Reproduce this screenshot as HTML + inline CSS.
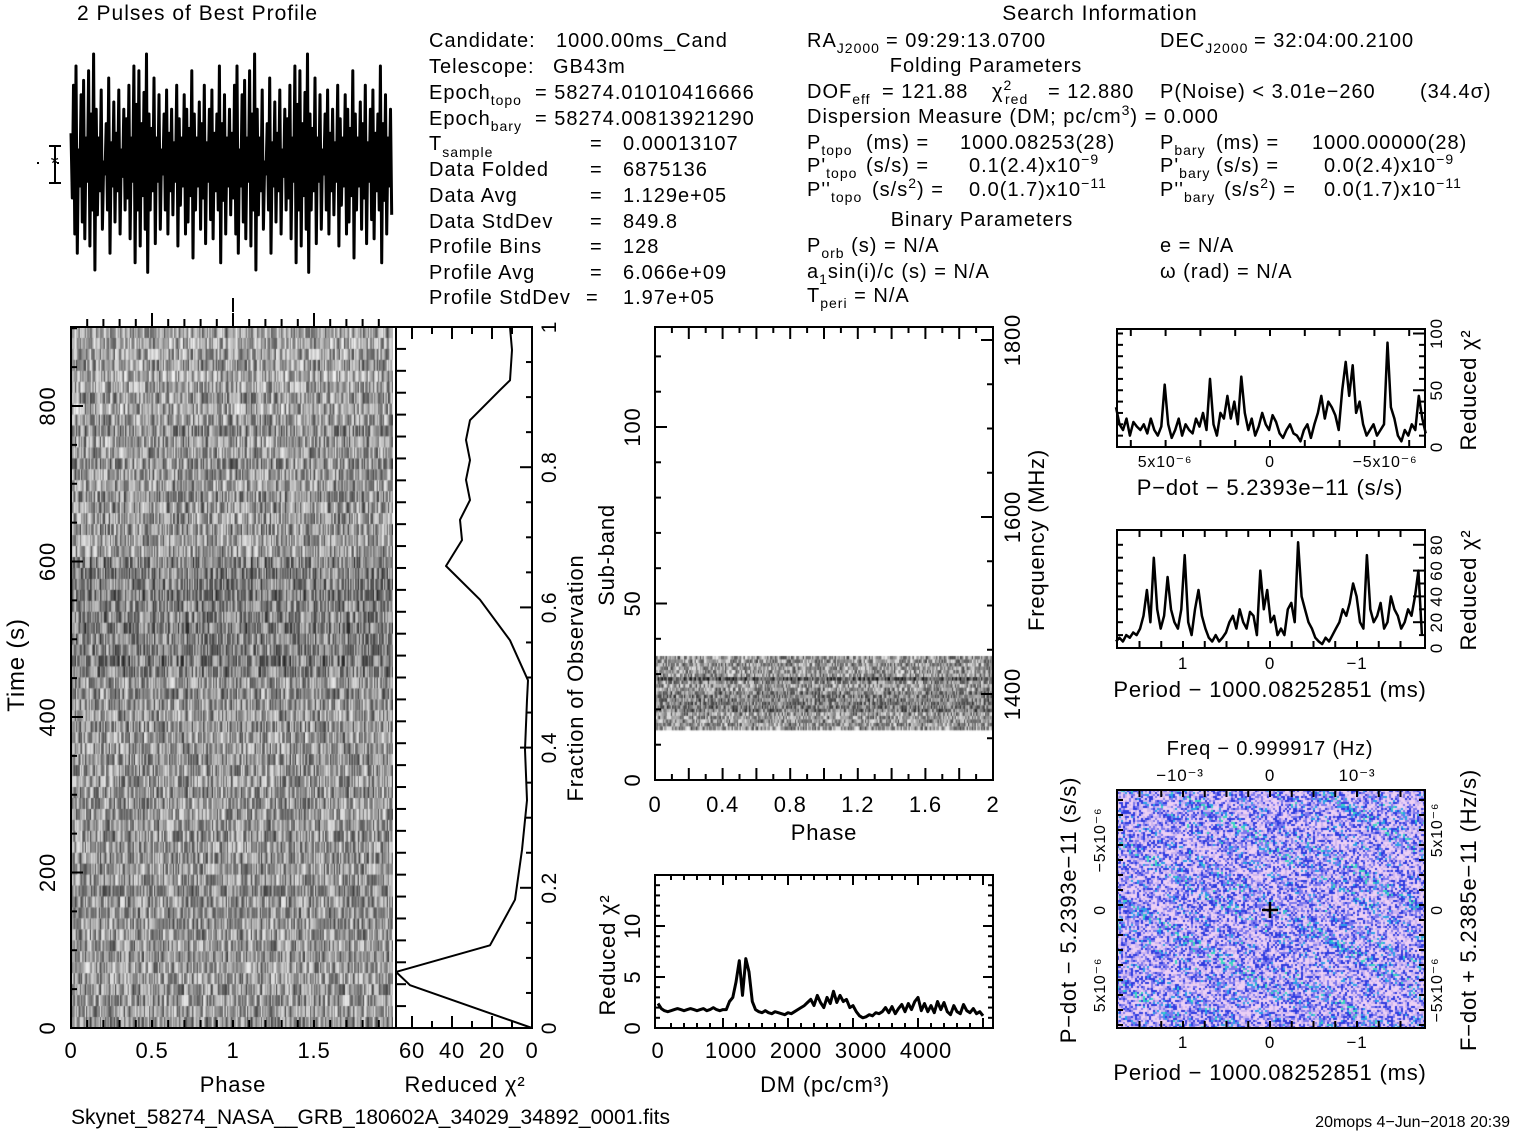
<!DOCTYPE html>
<html><head><meta charset="utf-8">
<style>
html,body{margin:0;padding:0;background:#fff;}
#root{position:relative;width:1517px;height:1133px;overflow:hidden;background:#fff;font-family:"Liberation Sans",sans-serif;}
canvas{position:absolute;}
svg{position:absolute;left:0;top:0;}
svg text{font-family:"Liberation Sans","DejaVu Sans",sans-serif;fill:#000;}
.info text{letter-spacing:1px;}
</style></head>
<body>
<div id="root">
<canvas id="tpCanvas" width="322" height="701" style="left:71px;top:327px"></canvas>
<canvas id="sbCanvas" width="338" height="453" style="left:655px;top:327px"></canvas>
<canvas id="ppCanvas" width="308" height="238" style="left:1117px;top:790px"></canvas>
<svg id="sv" width="1517" height="1133" xmlns="http://www.w3.org/2000/svg">
<g font-size="21" class="info">
<text x="77" y="20">2 Pulses of Best Profile</text>
<text x="1100" y="20" text-anchor="middle">Search Information</text>
</g>
<g font-size="20" class="info">
<text x="429" y="47">Candidate:<tspan x="556">1000.00ms_Cand</tspan></text>
<text x="429" y="73">Telescope:<tspan x="553">GB43m</tspan></text>
<text x="429" y="99">Epoch<tspan dy="6" font-size="14">topo</tspan><tspan dy="-6" x="535">= 58274.01010416666</tspan></text>
<text x="429" y="125">Epoch<tspan dy="6" font-size="14">bary</tspan><tspan dy="-6" x="535">= 58274.00813921290</tspan></text>
<text x="429" y="150">T<tspan dy="7" font-size="14">sample</tspan><tspan dy="-7" x="590">=</tspan><tspan x="623">0.00013107</tspan></text>
<text x="429" y="176">Data Folded<tspan x="590">=</tspan><tspan x="623">6875136</tspan></text>
<text x="429" y="202">Data Avg<tspan x="590">=</tspan><tspan x="623">1.129e+05</tspan></text>
<text x="429" y="228">Data StdDev<tspan x="590">=</tspan><tspan x="623">849.8</tspan></text>
<text x="429" y="253">Profile Bins<tspan x="590">=</tspan><tspan x="623">128</tspan></text>
<text x="429" y="279">Profile Avg<tspan x="590">=</tspan><tspan x="623">6.066e+09</tspan></text>
<text x="429" y="304">Profile StdDev<tspan x="586">=</tspan><tspan x="623">1.97e+05</tspan></text>
</g>
<g font-size="20" class="info">
<text x="807" y="47">RA<tspan dy="6" font-size="14">J2000</tspan><tspan dy="-6" x="886">= 09:29:13.0700</tspan></text>
<text x="1160" y="47">DEC<tspan dy="6" font-size="14">J2000</tspan><tspan dy="-6" x="1254">= 32:04:00.2100</tspan></text>
<text x="986" y="72" text-anchor="middle">Folding Parameters</text>
<text x="807" y="98">DOF<tspan dy="6" font-size="14">eff</tspan><tspan dy="-6" x="882">= 121.88</tspan><tspan x="992">χ</tspan><tspan dy="-8" font-size="14">2</tspan><tspan dy="14" x="1005" font-size="14">red</tspan><tspan dy="-6" x="1048">= 12.880</tspan><tspan x="1160">P(Noise) &lt; 3.01e−260</tspan><tspan x="1420">(34.4σ)</tspan></text>
<text x="807" y="123">Dispersion Measure (DM; pc/cm<tspan dy="-8" font-size="14">3</tspan><tspan dy="8">) = 0.000</tspan></text>
<text x="807" y="149">P<tspan dy="6" font-size="14">topo</tspan><tspan dy="-6" x="866">(ms) =</tspan><tspan x="960">1000.08253(28)</tspan></text>
<text x="1160" y="149">P<tspan dy="6" font-size="14">bary</tspan><tspan dy="-6" x="1216">(ms) =</tspan><tspan x="1312">1000.00000(28)</tspan></text>
<text x="807" y="172">P'<tspan dy="6" font-size="14">topo</tspan><tspan dy="-6" x="866">(s/s) =</tspan><tspan x="969">0.1(2.4)x10</tspan><tspan dy="-8" font-size="14">−9</tspan></text>
<text x="1160" y="172">P'<tspan dy="6" font-size="14">bary</tspan><tspan dy="-6" x="1216">(s/s) =</tspan><tspan x="1324">0.0(2.4)x10</tspan><tspan dy="-8" font-size="14">−9</tspan></text>
<text x="807" y="196">P''<tspan dy="6" font-size="14">topo</tspan><tspan dy="-6" x="872">(s/s</tspan><tspan dy="-8" font-size="14">2</tspan><tspan dy="8">) =</tspan><tspan x="969">0.0(1.7)x10</tspan><tspan dy="-8" font-size="14">−11</tspan></text>
<text x="1160" y="196">P''<tspan dy="6" font-size="14">bary</tspan><tspan dy="-6" x="1224">(s/s</tspan><tspan dy="-8" font-size="14">2</tspan><tspan dy="8">) =</tspan><tspan x="1324">0.0(1.7)x10</tspan><tspan dy="-8" font-size="14">−11</tspan></text>
<text x="982" y="226" text-anchor="middle">Binary Parameters</text>
<text x="807" y="252">P<tspan dy="6" font-size="14">orb</tspan><tspan dy="-6"> (s) = N/A</tspan></text>
<text x="1160" y="252">e = N/A</text>
<text x="807" y="278">a<tspan dy="6" font-size="14">1</tspan><tspan dy="-6">sin(i)/c (s) = N/A</tspan></text>
<text x="1160" y="278">ω (rad) = N/A</text>
<text x="807" y="302">T<tspan dy="6" font-size="14">peri</tspan><tspan dy="-6"> = N/A</tspan></text>
</g>
<text x="71" y="1124" font-size="21" class="info">Skynet_58274_NASA__GRB_180602A_34029_34892_0001.fits</text>
<text x="1510" y="1127" font-size="16" text-anchor="end">20mops   4−Jun−2018 20:39</text>
<g id="dyn"></g>
</svg>
</div>
<script>
// ---------- data ----------
const profileHigh = [0.62,0.82,0.9,0.55,0.78,0.84,0.6,0.88,0.7,0.95,0.72,0.6,0.8,0.5,0.66,0.85,0.58,0.75,0.62,0.8,0.55,0.72,0.68,0.82,0.6,0.9,0.74,0.88,0.66,0.79,0.95,0.7,0.64,0.85,0.6,0.78,0.55,0.7,0.8,0.62,0.72,0.58,0.82,0.68,0.6,0.78,0.72,0.64,0.88,0.7,0.6,0.75,0.66,0.82,0.58,0.72,0.8,0.62,0.7,0.9,0.66,0.78,0.6,0.72];
const profileLow  = [0.35,0.2,0.12,0.4,0.25,0.18,0.42,0.15,0.3,0.05,0.28,0.38,0.22,0.45,0.3,0.12,0.4,0.25,0.38,0.2,0.44,0.3,0.35,0.18,0.42,0.08,0.3,0.15,0.36,0.22,0.04,0.3,0.38,0.16,0.42,0.22,0.45,0.3,0.2,0.38,0.28,0.42,0.15,0.32,0.4,0.2,0.25,0.36,0.1,0.3,0.4,0.22,0.35,0.16,0.42,0.26,0.18,0.38,0.3,0.08,0.34,0.2,0.4,0.28];
const fracPoints = [0,0.061,0.080,0.118,0.183,0.254,0.325,0.397,0.468,0.496,0.553,0.611,0.659,0.696,0.725,0.753,0.782,0.810,0.839,0.867,0.910,0.924,0.967,1.0];
const chiVsFrac  = [0,61,68,21,8.5,5,2.5,3.5,2.5,2,11,26,43,35,36,31,33,31,33,31,16,11,10,11];
const dmStart = 0, dmStep = 50;
const dmChi = [2.4,1.9,1.7,1.6,1.7,1.8,1.9,1.8,1.7,1.8,1.9,1.8,1.7,1.8,1.9,1.7,1.8,2.0,1.8,1.7,1.8,
 1.8,2.6,3.0,4.5,6.6,3.2,6.8,5.5,2.6,1.8,
 1.6,1.5,1.7,1.5,1.4,1.6,1.5,1.4,1.3,1.5,
 1.4,1.6,1.8,2.0,2.2,2.5,2.8,2.2,3.2,2.5,
 2.0,3.0,2.4,3.6,2.5,3.2,2.6,2.8,2.0,2.2,
 1.6,1.2,1.0,1.1,1.3,1.2,1.5,1.4,1.6,2.0,
 1.5,2.1,1.4,1.9,2.3,1.6,2.4,1.8,2.6,3.0,
 1.7,2.4,1.6,2.2,1.5,2.6,1.8,2.5,1.6,1.3,
 2.2,1.6,1.4,2.3,1.7,1.5,1.9,1.4,1.6,1.2];
const pdotStart = 8.85, pdotStep = -0.2;
const pdotChi = [35,20,15,25,10,22,18,15,20,12,25,15,10,18,55,20,8,15,25,10,20,15,12,25,18,30,15,60,20,10,30,25,45,25,40,20,62,30,15,25,10,18,30,20,15,28,22,12,8,15,20,12,10,5,15,20,8,20,30,45,25,40,35,28,15,50,75,45,72,30,40,20,10,15,20,10,15,20,92,35,25,10,5,15,10,20,15,45,25,12];
const perStart = 1.77, perStep = -0.0395;
const perChi = [5,8,5,10,8,12,10,15,25,45,20,70,30,15,25,55,30,20,15,30,72,20,10,30,45,25,15,8,5,10,5,8,12,20,25,15,30,20,15,28,25,10,60,30,45,20,25,10,15,10,30,35,20,82,40,30,20,15,8,5,3,8,5,10,15,20,30,25,35,50,40,20,15,72,30,20,25,35,15,20,40,30,25,15,20,30,25,40,60,10];
const timeTicks = [0,200,400,600,800];
const phaseTicks = ["0","0.5","1","1.5"];
const chiTicks = ["60","40","20","0"];
const fracTicks = ["0","0.2","0.4","0.6","0.8","1"];
const sbTicks = ["0","50","100"];
const sbPhaseTicks = ["0","0.4","0.8","1.2","1.6","2"];
const freqTicks = ["1400","1600","1800"];
const dmTicks = ["0","1000","2000","3000","4000"];
const dmChiTicks = ["0","5","10"];

// ---------- scales ----------
const profX = i => 71 + i * (322 / 256);
const profY = v => 282 - v * 240;
const tpX = p => 71 + p * 162;
const tpY = t => 1028 - t * 0.7775;
const chX = c => 532 - c * 2;
const chY = f => 1028 - f * 701;
const sbX = p => 655 + p * 169;
const sbY = s => 780 - s * 3.53;
const frY = f => 694 - (f - 1400) * 0.885;
const dmX = d => 658 + d * 0.065;
const dmY = c => 1028 - c * 10.2;
const pdX = p => 1270 - p * 17.4;
const pdY = c => 447 - c * 1.135;
const peX = p => 1270 - p * 87;
const peY = c => 648 - c * 1.29;

const NS = "http://www.w3.org/2000/svg";
const dyn = document.getElementById('dyn');
function mk(tag, attrs, name) {
  const el = document.createElementNS(NS, tag);
  for (const k in attrs) el.setAttribute(k, attrs[k]);
  
  
  dyn.appendChild(el);
  return el;
}
function txt(x, y, s, name, size, rot, anchor) {
  const el = mk('text', {x: x, y: y, 'font-size': size || 20, 'text-anchor': anchor || 'middle', 'letter-spacing': '0.8'}, name);
  if (rot) el.setAttribute('transform', 'rotate(' + rot + ' ' + x + ' ' + y + ')');
  el.textContent = s;
  return el;
}
function line(x1, y1, x2, y2, name, w) {
  return mk('line', {x1: x1, y1: y1, x2: x2, y2: y2, stroke: '#000', 'stroke-width': w || 2}, name);
}
function frame(x0, y0, x1, y1, name) {
  return mk('rect', {x: x0, y: y0, width: x1 - x0, height: y1 - y0, fill: 'none', stroke: '#000', 'stroke-width': 2}, name);
}
function poly(pts, name, w) {
  return mk('polyline', {points: pts.map(p => p[0].toFixed(1) + ',' + p[1].toFixed(1)).join(' '), fill: 'none', stroke: '#000', 'stroke-width': w || 2, 'stroke-linejoin': 'round'}, name);
}

// ---------- textures (deterministic) ----------
let seed = 12345;
function rnd() { seed = (seed * 1103515245 + 12345) & 0x7fffffff; return seed / 0x7fffffff; }
(function () {
  const c = document.getElementById('tpCanvas').getContext('2d');
  const rows = 64, cols = 256, rh = 701 / rows, cw = 322 / cols;
  for (let r = 0; r < rows; r++) {
    const yTop = r * rh; const t = (701 - yTop) / 0.7775;
    let base = 150;
    if (t > 460 && t < 610) base = 128;
    if (t > 790) base = 162;
    if (r % 3 === 0) base -= 8;
    for (let cI = 0; cI < 128; cI++) {
      const v = Math.max(15, Math.min(240, base + (rnd() - 0.5) * 170));
      for (const k of [cI, cI + 128]) { c.fillStyle = 'rgb(' + (v|0) + ',' + (v|0) + ',' + (v|0) + ')'; c.fillRect(k * cw, yTop, cw + 0.3, rh + 0.3); }
    }
  }
  const s = document.getElementById('sbCanvas').getContext('2d');
  const bTop = 656 - 327, srh = 74 / 21;
  for (let r = 0; r < 21; r++) {
    let base = 150; if (r === 6) base = 80; if (r > 9 && r < 16) base = 125;
    for (let cI = 0; cI < 128; cI++) {
      const v = Math.max(10, Math.min(245, base + (rnd() - 0.5) * 170));
      for (const k of [cI, cI + 128]) { s.fillStyle = 'rgb(' + (v|0) + ',' + (v|0) + ',' + (v|0) + ')'; s.fillRect(k * 338 / 256, bTop + r * srh, 338 / 256 + 0.3, srh + 0.3); }
    }
  }
  const p = document.getElementById('ppCanvas').getContext('2d');
  for (let y = 0; y < 238; y += 2) for (let x = 0; x < 308; x += 2) {
    const st = Math.sin((x * 0.6 - y) * 0.22) + Math.sin((x * 0.45 - y) * 0.09) * 0.6;
    const q = rnd() + st * 0.11;
    let col;
    if (q < 0.33) col = '#ecd0f4'; else if (q < 0.52) col = '#cbb4f0'; else if (q < 0.72) col = '#7c78ee'; else if (q < 0.93) col = '#2f3ce0'; else if (q < 1.04) col = '#2aa0e8'; else col = '#3ad8c0';
    p.fillStyle = col; p.fillRect(x, y, 2, 2);
  }
})();

// ---------- profile ----------
const profPts = [];
for (let rep = 0; rep < 2; rep++) for (let i = 0; i < profileHigh.length; i++) {
  const b = rep * 128 + i * 2;
  profPts.push([profX(b), profY(profileHigh[i])]);
  profPts.push([profX(b + 1), profY(profileLow[i])]);
}
poly(profPts, 'profile-line', 3);
mk('line', {x1: 37, y1: 163, x2: 395, y2: 163, stroke: '#000', 'stroke-width': 2, 'stroke-dasharray': '2 18'}, 'profile-baseline');
line(55, 146, 55, 183, 'profile-error-bar', 2);
line(49, 146, 61, 146, 'profile-error-cap-top', 2);
line(49, 183, 61, 183, 'profile-error-cap-bottom', 2);
txt(55, 170, '*', 'profile-error-marker', 20);
line(233, 298, 233, 312, 'profile-phase-marker', 2);

// ---------- time-phase panel ----------
frame(71, 327, 396, 1028, 'time-phase-frame');
for (let i = 1; i < 20; i++) { const x = tpX(i * 0.1); line(x, 327, x, i % 5 === 0 ? 313 : 319, 'phase-top-tick', 2); line(x, 1028, x, 1020, 'phase-bottom-tick', 2); }
for (let t = 50; t <= 900; t += 50) line(71, tpY(t), t % 200 === 0 ? 83 : 77, tpY(t), 'time-tick', 2);
timeTicks.forEach(t => txt(55, tpY(t), String(t), 'time-tick-label', 22, -90));
phaseTicks.forEach((s, i) => txt(tpX(i * 0.5), 1058, s, 'phase-tick-label', 22));
txt(24, 665, 'Time (s)', 'time-axis-title', 24, -90);
txt(233, 1092, 'Phase', 'phase-axis-title', 22);

// ---------- chi vs fraction ----------
frame(396, 327, 532, 1028, 'chi-fraction-frame');
for (let i = 1; i < 32; i++) { const y = chY(i / 32); line(396, y, 406, y, 'chi-left-tick', 2); }
for (let c = 10; c <= 60; c += 10) { line(chX(c), 327, chX(c), c % 20 === 0 ? 339 : 334, 'chi-top-tick', 2); line(chX(c), 1028, chX(c), c % 20 === 0 ? 1016 : 1021, 'chi-bottom-tick', 2); }
for (let f = 0.05; f < 1; f += 0.05) { const maj = Math.abs(f * 5 - Math.round(f * 5)) < 1e-6; line(532, chY(f), maj ? 520 : 526, chY(f), 'fraction-tick', 2); }
chiTicks.forEach((s, i) => txt(chX(60 - i * 20), 1058, s, 'chi-tick-label', 22));
fracTicks.forEach((s, i) => txt(556, chY(i * 0.2), s, 'fraction-tick-label', 21, -90));
poly(fracPoints.map((f, i) => [chX(chiVsFrac[i]), chY(f)]), 'chi-vs-fraction-line', 2);
txt(583, 678, 'Fraction of Observation', 'fraction-axis-title', 22, -90);
txt(465, 1092, 'Reduced χ²', 'chi-axis-title', 22);

// ---------- subband panel ----------
frame(655, 327, 993, 780, 'subband-frame');
for (let i = 1; i < 20; i++) { const x = sbX(i * 0.1); const m = i % 2 === 0; line(x, 780, x, m ? 768 : 774, 'sb-bottom-tick', 2); line(x, 327, x, m ? 339 : 333, 'sb-top-tick', 2); }
for (let s = 10; s < 128; s += 10) line(655, sbY(s), s % 50 === 0 ? 667 : 661, sbY(s), 'sb-left-tick', 2);
for (let f = 1350; f <= 1800; f += 50) line(993, frY(f), f % 200 === 0 ? 981 : 987, frY(f), 'freq-tick', 2);
sbTicks.forEach((s, i) => txt(640, sbY(i * 50), s, 'subband-tick-label', 22, -90));
sbPhaseTicks.forEach((s, i) => txt(sbX(i * 0.4), 812, s, 'sb-phase-tick-label', 22));
freqTicks.forEach((s, i) => txt(1020, frY(1400 + i * 200), s, 'freq-tick-label', 22, -90));
txt(614, 555, 'Sub-band', 'subband-axis-title', 22, -90);
txt(1044, 540, 'Frequency (MHz)', 'freq-axis-title', 22, -90);
txt(824, 840, 'Phase', 'sb-phase-axis-title', 22);

// ---------- DM panel ----------
frame(655, 875, 993, 1028, 'dm-frame');
for (let d = 200; d <= 5000; d += 200) { const x = dmX(d); const m = d % 1000 === 0; line(x, 1028, x, m ? 1018 : 1023, 'dm-bottom-tick', 2); line(x, 875, x, m ? 885 : 880, 'dm-top-tick', 2); }
for (let c = 1; c <= 14; c++) { const m = c % 5 === 0; line(655, dmY(c), m ? 665 : 660, dmY(c), 'dm-left-tick', 2); line(993, dmY(c), m ? 983 : 988, dmY(c), 'dm-right-tick', 2); }
poly(dmChi.map((v, i) => [dmX(dmStart + i * dmStep), dmY(v)]), 'dm-chi-line', 3);
dmTicks.forEach((s, i) => txt(dmX(i * 1000) + (i ? 8 : 0), 1058, s, 'dm-tick-label', 22));
dmChiTicks.forEach((s, i) => txt(640, dmY(i * 5), s, 'dm-chi-tick-label', 22, -90));
txt(615, 955, 'Reduced χ²', 'dm-chi-axis-title', 22, -90);
txt(825, 1092, 'DM (pc/cm³)', 'dm-axis-title', 22);

// ---------- P-dot chi panel ----------
frame(1117, 329, 1425, 447, 'pdot-chi-frame');
for (let p = -8; p <= 8; p += 2) { line(pdX(p), 447, pdX(p), 440, 'pdot-tick', 2); line(pdX(p), 329, pdX(p), 336, 'pdot-top-tick', 2); }
for (let c = 10; c <= 100; c += 10) { line(1117, pdY(c), 1123, pdY(c), 'pdot-chi-left-tick', 2); line(1425, pdY(c), c % 50 ? 1419 : 1413, pdY(c), 'pdot-chi-right-tick', 2); }
poly(pdotChi.map((v, i) => [pdX(pdotStart + i * pdotStep), pdY(v)]), 'pdot-chi-line', 2.5);
txt(1165, 467, '5x10⁻⁶', 'pdot-tick-label', 16);
txt(1270, 467, '0', 'pdot-tick-label', 16);
txt(1385, 467, '−5x10⁻⁶', 'pdot-tick-label', 16);
txt(1442, pdY(0), '0', 'pdot-chi-tick-label', 17, -90);
txt(1442, pdY(50), '50', 'pdot-chi-tick-label', 17, -90);
txt(1442, pdY(100), '100', 'pdot-chi-tick-label', 17, -90);
txt(1476, 390, 'Reduced χ²', 'pdot-chi-axis-title', 22, -90);
txt(1270, 495, 'P−dot − 5.2393e−11 (s/s)', 'pdot-axis-title', 22);

// ---------- period chi panel ----------
frame(1117, 530, 1425, 648, 'period-chi-frame');
for (let p = -1.5; p <= 1.5; p += 0.25) { line(peX(p), 648, peX(p), 641, 'period-tick', 2); line(peX(p), 530, peX(p), 537, 'period-top-tick', 2); }
for (let c = 10; c <= 80; c += 10) { line(1117, peY(c), 1123, peY(c), 'period-chi-left-tick', 2); line(1425, peY(c), c % 20 ? 1419 : 1413, peY(c), 'period-chi-right-tick', 2); }
poly(perChi.map((v, i) => [peX(perStart + i * perStep), peY(v)]), 'period-chi-line', 2.5);
['1', '0', '−1'].forEach((s, i) => txt(peX(1 - i), 669, s, 'period-tick-label', 17));
[0, 20, 40, 60, 80].forEach(c => txt(1442, peY(c), String(c), 'period-chi-tick-label', 17, -90));
txt(1476, 590, 'Reduced χ²', 'period-chi-axis-title', 22, -90);
txt(1270, 697, 'Period − 1000.08252851 (ms)', 'period-axis-title', 22);

// ---------- P-Pdot panel ----------
frame(1117, 790, 1425, 1028, 'p-pdot-frame');
for (let p = -1.5; p <= 1.5; p += 0.25) { line(peX(p), 1028, peX(p), 1021, 'pp-bottom-tick', 2); line(peX(p), 790, peX(p), 797, 'pp-top-tick', 2); }
for (let y = 800; y < 1028; y += 15) { line(1117, y, 1123, y, 'pp-left-tick', 2); line(1425, y, 1419, y, 'pp-right-tick', 2); }
line(1262, 910, 1278, 910, 'best-candidate-marker', 2.5);
line(1270, 902, 1270, 918, 'best-candidate-marker', 2.5);
txt(1270, 755, 'Freq − 0.999917 (Hz)', 'freq-axis-title-top', 20);
txt(1180, 781, '−10⁻³', 'freq-tick-label', 17);
txt(1270, 781, '0', 'freq-tick-label', 17);
txt(1357, 781, '10⁻³', 'freq-tick-label', 17);
['1', '0', '−1'].forEach((s, i) => txt(peX(1 - i), 1048, s, 'pp-period-tick-label', 17));
txt(1270, 1080, 'Period − 1000.08252851 (ms)', 'pp-period-axis-title', 22);
txt(1105, 840, '−5x10⁻⁶', 'pp-pdot-tick-label', 16, -90);
txt(1105, 910, '0', 'pp-pdot-tick-label', 16, -90);
txt(1105, 985, '5x10⁻⁶', 'pp-pdot-tick-label', 16, -90);
txt(1076, 910, 'P−dot − 5.2393e−11 (s/s)', 'pp-pdot-axis-title', 22, -90);
txt(1442, 830, '5x10⁻⁶', 'pp-fdot-tick-label', 16, -90);
txt(1442, 910, '0', 'pp-fdot-tick-label', 16, -90);
txt(1442, 990, '−5x10⁻⁶', 'pp-fdot-tick-label', 16, -90);
txt(1476, 910, 'F−dot + 5.2385e−11 (Hz/s)', 'pp-fdot-axis-title', 22, -90);
</script>
</body></html>
